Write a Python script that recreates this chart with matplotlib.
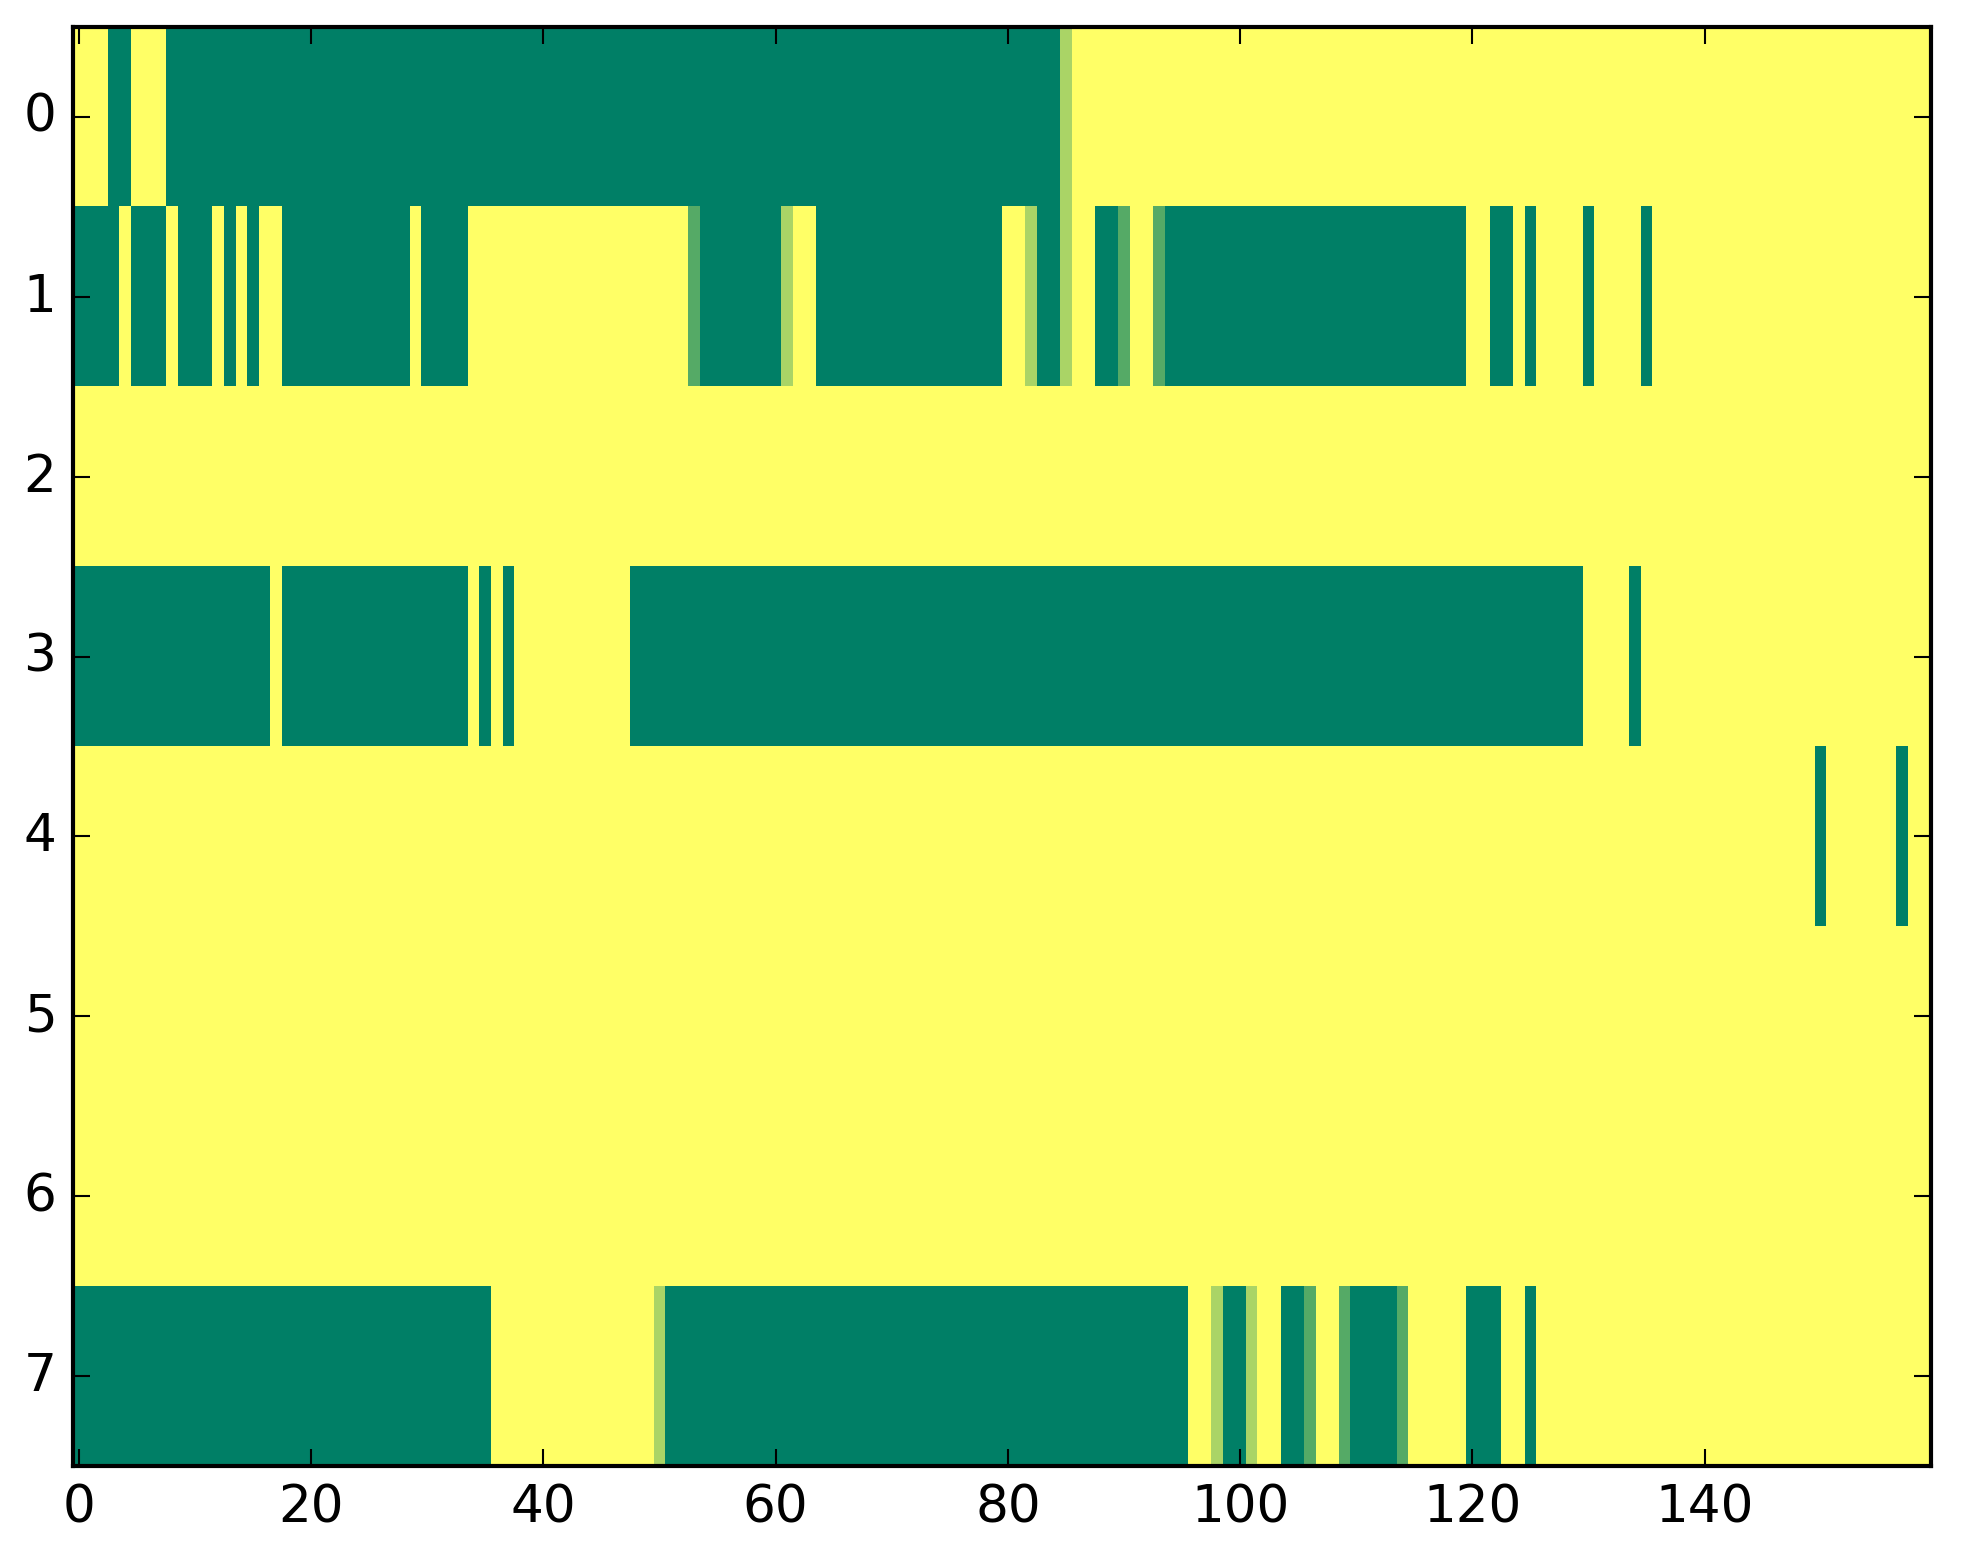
import numpy as np
import matplotlib
matplotlib.use("Agg")
import matplotlib.pyplot as plt

# Cell values per row as run-lengths: (value, count). 0 = dark green ... 3 = yellow
row0 = [(3, 3), (0, 2), (3, 3), (0, 77), (2, 1), (3, 74)]
row1 = [(0, 4), (3, 1), (0, 3), (3, 1), (0, 3), (3, 1), (0, 1), (3, 1), (0, 1),
        (3, 2), (0, 11), (3, 1), (0, 4), (3, 19), (1, 1), (0, 7), (2, 1), (3, 2),
        (0, 16), (3, 2), (2, 1), (0, 2), (2, 1), (3, 2), (0, 2), (1, 1), (3, 2),
        (1, 1), (0, 26), (3, 2), (0, 2), (3, 1), (0, 1), (3, 4), (0, 1), (3, 4),
        (0, 1), (3, 24)]
row2 = [(3, 160)]
row3 = [(0, 17), (3, 1), (0, 16), (3, 1), (0, 1), (3, 1), (0, 1), (3, 10),
        (0, 82), (3, 4), (0, 1), (3, 25)]
row4 = [(3, 150), (0, 1), (3, 6), (0, 1), (3, 2)]
row5 = [(3, 160)]
row6 = [(3, 160)]
row7 = [(0, 36), (3, 14), (2, 1), (0, 45), (3, 2), (2, 1), (0, 2), (2, 1), (3, 2),
        (0, 2), (1, 1), (3, 2), (1, 1), (0, 4), (1, 1), (3, 5), (0, 3), (3, 2),
        (0, 1), (3, 34)]

rows = [row0, row1, row2, row3, row4, row5, row6, row7]
xticks = [0, 20, 40, 60, 80, 100, 120, 140]
yticks = [0, 1, 2, 3, 4, 5, 6, 7]


def expand(runs):
    vals = [v for v, _ in runs]
    counts = [c for _, c in runs]
    return np.repeat(vals, counts)


data = np.vstack([expand(r) for r in rows]).astype(float)

plt.style.use("classic")
plt.rcParams["font.family"] = ["DejaVu Sans"]
fig = plt.figure(figsize=(1963 / 300, 1564 / 300), dpi=300)
ax = fig.add_axes([0.0372, 0.0620, 0.9465, 0.9201])
ax.imshow(data, cmap="summer", vmin=0, vmax=3, interpolation="nearest",
          aspect="auto")
ax.set_xticks(xticks)
ax.set_yticks(yticks)
ax.tick_params(labelsize=12.4)
for sp in ax.spines.values():
    sp.set_linewidth(1.0)
fig.savefig("out.png", dpi=300)
